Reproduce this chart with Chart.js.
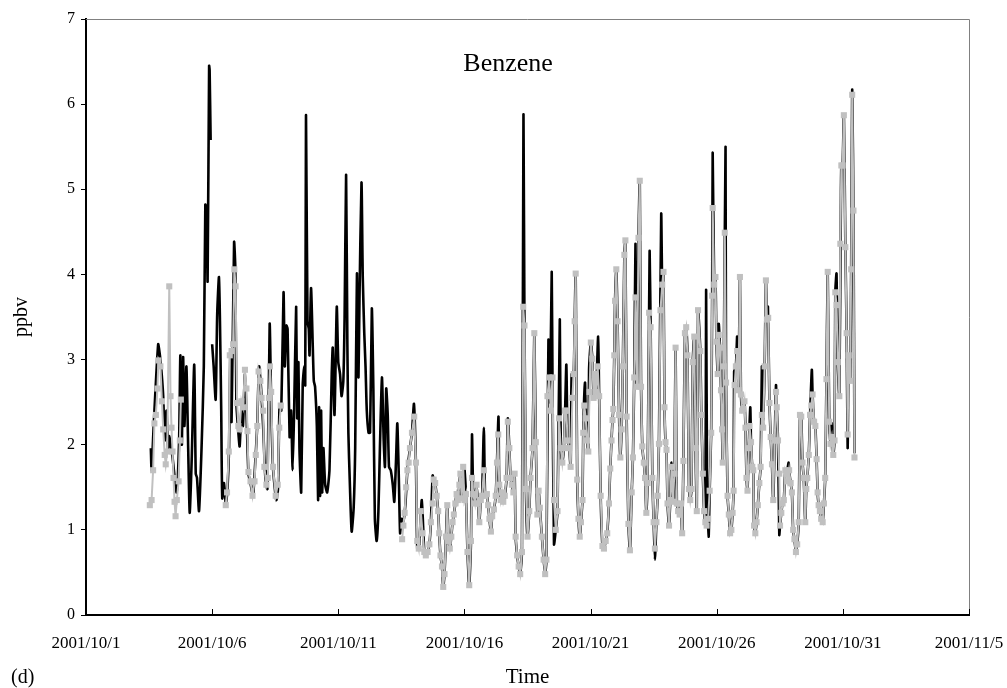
<!DOCTYPE html>
<html>
<head>
<meta charset="utf-8">
<script src="https://cdn.jsdelivr.net/npm/chart.js@4.4.1/dist/chart.umd.min.js"></script>
<style>
html, body { margin: 0; padding: 0; background: #fff; }
</style>
</head>
<body>
<canvas id="canvasBenzene" width="1007" height="688"></canvas>
<script>
// x values are days counted from 2001/10/1 00:00
var dateLabels = ['2001/10/1', '2001/10/6', '2001/10/11', '2001/10/16',
    '2001/10/21', '2001/10/26', '2001/10/31', '2001/11/5'];

// black curve, [day, ppbv]; a null value breaks the line
var blackSeries = [
    [2.57,1.96],[2.60,1.70],[2.69,2.27],[2.86,3.18],[2.93,3.05],[3.00,2.83],[3.06,2.57],[3.12,2.05],
    [3.19,2.40],[3.26,1.92],[3.30,2.10],[3.43,1.85],[3.59,1.44],[3.69,2.05],[3.74,3.05],[3.80,2.00],
    [3.85,3.03],[3.90,2.22],[3.98,2.92],[4.05,1.96],[4.11,1.20],[4.19,1.83],[4.29,2.94],[4.35,1.66],
    [4.40,1.61],[4.48,1.22],[4.58,1.96],[4.67,2.92],[4.73,4.82],[4.78,4.75],[4.82,3.92],[4.88,6.45],
    [4.90,6.40],[4.94,5.58],[4.97,null],[5.00,3.18],[5.06,2.92],[5.14,2.53],[5.20,3.53],[5.27,3.97],
    [5.31,3.45],[5.36,2.40],[5.40,1.37],[5.47,1.55],[5.54,1.31],[5.60,1.44],[5.67,1.96],[5.72,3.10],
    [5.77,2.27],[5.87,4.38],[5.92,4.06],[5.96,2.49],[6.02,2.22],[6.09,1.98],[6.16,2.40],[6.22,2.22],
    [6.30,2.83],[6.38,2.18],[6.44,1.66],[6.53,1.53],[6.62,1.40],[6.69,1.70],[6.78,2.18],[6.86,2.92],
    [6.94,2.66],[7.02,2.22],[7.11,1.61],[7.19,1.48],[7.28,3.42],[7.34,2.49],[7.41,1.74],[7.54,1.35],
    [7.61,1.48],[7.67,2.44],[7.74,2.40],[7.83,3.79],[7.88,2.92],[7.94,3.40],[7.99,3.36],[8.07,2.09],
    [8.13,2.40],[8.19,1.70],[8.25,2.40],[8.33,3.62],[8.37,2.31],[8.42,2.97],[8.46,1.96],[8.53,1.44],
    [8.59,2.70],[8.65,2.92],[8.69,2.70],[8.72,5.87],[8.78,3.45],[8.83,3.36],[8.86,3.05],[8.92,3.84],
    [8.99,3.14],[9.03,2.75],[9.08,2.68],[9.15,2.22],[9.20,1.35],[9.24,2.44],[9.28,1.40],[9.32,2.40],
    [9.36,1.44],[9.41,1.96],[9.48,1.53],[9.56,1.44],[9.65,1.70],[9.74,2.83],[9.78,3.14],[9.85,2.35],
    [9.94,3.62],[10.00,2.97],[10.07,2.83],[10.13,2.57],[10.20,2.75],[10.25,3.49],[10.31,5.17],[10.36,3.18],
    [10.40,2.14],[10.46,1.53],[10.53,0.98],[10.61,1.26],[10.67,1.96],[10.74,4.01],[10.80,2.79],[10.84,3.71],
    [10.92,5.08],[10.97,3.97],[11.03,3.31],[11.08,2.92],[11.13,2.40],[11.20,2.14],[11.26,2.14],[11.33,3.60],
    [11.39,2.66],[11.45,1.13],[11.52,0.87],[11.59,1.22],[11.65,1.96],[11.73,2.79],[11.80,2.05],[11.85,1.74],
    [11.90,2.66],[11.96,2.35],[12.01,1.74],[12.08,1.70],[12.16,1.53],[12.22,1.33],[12.29,1.83],[12.34,2.25],
    [12.40,1.61],[12.45,0.96],[12.50,1.13],[12.58,1.10],[12.66,1.30],[12.74,1.70],[12.84,1.96],[12.92,2.14],
    [13.00,2.48],[13.08,1.74],[13.13,0.78],[13.21,0.83],[13.31,1.35],[13.41,0.74],[13.47,0.70],[13.54,0.74],
    [13.61,0.83],[13.67,1.09],[13.74,1.64],[13.78,1.59],[13.84,1.55],[13.90,1.40],[13.96,1.22],[14.00,0.96],
    [14.05,0.70],[14.11,0.57],[14.16,0.33],[14.21,0.48],[14.27,0.92],[14.32,1.29],[14.37,0.87],[14.42,0.78],
    [14.48,0.92],[14.53,1.09],[14.58,1.18],[14.64,1.31],[14.69,1.42],[14.74,1.35],[14.80,1.53],[14.84,1.66],
    [14.89,1.37],[14.99,1.74],[15.06,1.42],[15.12,0.74],[15.19,0.35],[15.26,0.87],[15.30,2.12],[15.35,1.42],
    [15.42,1.31],[15.48,1.53],[15.54,1.31],[15.59,1.09],[15.65,1.35],[15.70,1.40],[15.77,2.20],[15.82,1.40],
    [15.89,1.42],[15.94,1.29],[15.99,1.13],[16.05,0.98],[16.10,1.16],[16.17,1.24],[16.24,1.40],[16.29,1.79],
    [16.35,2.33],[16.38,1.53],[16.44,1.35],[16.49,1.44],[16.54,1.33],[16.60,1.40],[16.67,1.61],[16.72,2.31],
    [16.78,1.96],[16.83,1.61],[16.88,1.53],[16.94,1.44],[16.99,1.66],[17.03,0.92],[17.09,0.70],[17.15,0.57],
    [17.21,0.48],[17.28,0.74],[17.34,5.87],[17.38,3.40],[17.44,1.48],[17.50,0.92],[17.57,1.22],[17.62,1.61],
    [17.70,1.96],[17.77,3.31],[17.83,2.03],[17.89,1.18],[17.94,1.46],[17.99,1.26],[18.07,0.92],[18.14,0.65],
    [18.20,0.48],[18.25,0.65],[18.33,3.23],[18.39,2.50],[18.46,4.03],[18.49,2.79],[18.55,0.83],[18.62,1.00],
    [18.69,1.22],[18.78,3.47],[18.82,1.96],[18.88,1.79],[18.94,1.96],[18.99,2.40],[19.04,2.94],[19.09,2.05],
    [19.15,1.96],[19.21,1.74],[19.25,2.83],[19.33,2.83],[19.37,3.45],[19.41,4.01],[19.47,1.59],[19.52,1.13],
    [19.57,0.92],[19.62,1.09],[19.68,1.35],[19.71,2.14],[19.78,2.73],[19.81,2.31],[19.86,2.05],[19.91,1.92],
    [19.94,2.88],[20.01,3.20],[20.07,3.01],[20.12,2.55],[20.17,2.83],[20.22,2.62],[20.30,3.27],[20.34,2.57],
    [20.40,1.40],[20.47,0.81],[20.53,0.78],[20.60,0.87],[20.66,0.96],[20.73,1.31],[20.78,1.72],[20.83,2.05],
    [20.87,2.29],[20.90,2.42],[20.94,3.05],[20.97,3.69],[21.02,4.06],[21.07,3.45],[21.13,2.35],[21.18,1.85],
    [21.23,2.18],[21.28,2.92],[21.34,4.23],[21.38,4.40],[21.43,2.33],[21.50,1.07],[21.56,0.76],[21.63,1.44],
    [21.68,1.85],[21.73,2.79],[21.78,4.36],[21.84,2.68],[21.90,4.43],[21.95,5.10],[22.00,2.68],[22.05,1.98],
    [22.11,1.79],[22.16,1.61],[22.21,1.20],[22.26,1.55],[22.34,4.27],[22.38,3.38],[22.45,1.61],[22.50,1.09],
    [22.55,0.65],[22.61,1.09],[22.66,1.40],[22.71,2.01],[22.80,4.71],[22.84,3.88],[22.89,4.03],[22.93,2.44],
    [22.97,2.03],[23.01,1.94],[23.05,1.31],[23.11,1.05],[23.16,1.35],[23.21,1.79],[23.27,1.33],[23.32,1.66],
    [23.37,3.14],[23.42,1.31],[23.47,1.22],[23.53,1.18],[23.58,1.31],[23.63,0.96],[23.68,1.81],[23.74,3.31],
    [23.79,3.38],[23.84,3.05],[23.90,1.48],[23.95,1.35],[24.00,1.48],[24.05,2.97],[24.11,3.27],[24.16,1.96],
    [24.21,1.22],[24.26,3.58],[24.35,3.10],[24.39,2.35],[24.45,1.66],[24.50,1.22],[24.55,1.09],[24.58,3.82],
    [24.62,1.50],[24.68,0.92],[24.72,1.46],[24.78,2.14],[24.82,3.75],[24.84,5.43],[24.90,3.88],[24.95,3.97],
    [24.99,3.21],[25.04,2.83],[25.08,3.42],[25.13,3.14],[25.17,2.64],[25.21,2.18],[25.24,1.79],[25.28,2.92],
    [25.35,5.50],[25.37,2.73],[25.43,1.40],[25.48,1.18],[25.53,0.96],[25.58,1.00],[25.63,1.20],[25.67,1.46],
    [25.69,2.86],[25.76,2.92],[25.81,3.27],[25.86,2.64],[25.92,3.97],[25.96,2.59],[26.01,2.40],[26.05,2.42],
    [26.10,2.51],[26.14,2.20],[26.18,1.61],[26.22,1.46],[26.27,1.96],[26.33,2.44],[26.36,2.03],[26.41,1.74],
    [26.45,1.70],[26.48,1.05],[26.53,0.96],[26.58,1.09],[26.63,1.29],[26.69,1.55],[26.74,1.74],[26.79,2.92],
    [26.84,2.20],[26.90,2.92],[26.95,3.93],[26.99,3.47],[27.03,3.62],[27.09,2.49],[27.14,2.09],[27.19,1.77],
    [27.24,1.35],[27.30,2.05],[27.35,2.70],[27.38,2.44],[27.43,2.05],[27.48,0.94],[27.51,1.05],[27.56,1.20],
    [27.61,1.31],[27.66,1.35],[27.72,1.70],[27.77,1.66],[27.85,1.79],[27.87,1.70],[27.93,1.55],[27.98,1.44],
    [28.03,1.00],[28.08,0.89],[28.14,0.74],[28.19,0.83],[28.25,1.09],[28.30,2.35],[28.35,2.33],[28.40,1.79],
    [28.45,1.61],[28.51,1.09],[28.55,1.48],[28.59,1.61],[28.65,1.88],[28.70,2.35],[28.77,2.88],[28.80,2.59],
    [28.86,2.27],[28.91,2.22],[28.96,1.83],[29.00,1.44],[29.04,1.29],[29.09,1.22],[29.14,1.13],[29.20,1.09],
    [29.25,1.31],[29.30,1.61],[29.35,2.77],[29.40,4.03],[29.46,2.27],[29.51,2.01],[29.56,2.25],[29.62,1.88],
    [29.67,2.05],[29.70,3.79],[29.75,4.01],[29.80,2.97],[29.86,2.57],[29.92,4.75],[29.94,5.28],[29.99,5.28],
    [30.04,5.87],[30.10,4.32],[30.15,3.31],[30.19,1.96],[30.23,3.05],[30.29,2.75],[30.33,4.06],[30.37,6.17],
    [30.42,4.75],[30.46,1.90]
];

// grey curve with square markers, [day, ppbv]; null values are the gaps
var graySeries = [
    [2.53,1.29],[2.60,1.35],[2.66,1.70],[2.71,2.25],[2.77,2.35],[2.83,2.66],[2.87,2.99],[2.95,2.92],
    [3.01,2.51],[3.06,2.18],[3.12,1.88],[3.16,1.77],[3.22,1.92],[3.30,3.86],[3.35,2.57],[3.39,2.20],
    [3.43,1.92],[3.47,1.61],[3.51,1.33],[3.55,1.16],[3.60,1.35],[3.67,1.57],[3.72,2.05],[3.76,2.53],
    [4.60,null],
    [5.54,1.29],[5.59,1.44],[5.66,1.92],[5.70,3.05],[5.77,3.10],[5.83,3.18],[5.88,4.06],[5.93,3.86],
    [5.99,2.49],[6.04,2.22],[6.09,2.18],[6.16,2.51],[6.22,2.44],[6.30,2.88],[6.36,2.66],[6.40,2.16],
    [6.44,1.68],[6.52,1.57],[6.60,1.40],[6.68,1.57],[6.73,1.88],[6.79,2.22],[6.84,2.86],[6.91,2.75],
    [6.96,2.55],[7.02,2.40],[7.07,1.74],[7.15,1.53],[7.21,1.61],[7.25,2.55],[7.29,2.92],[7.34,2.62],
    [7.41,1.74],[7.52,1.40],[7.60,1.53],[7.66,2.20],[7.72,2.46],
    [10.00,null],
    [12.53,0.89],[12.58,1.05],[12.63,1.20],[12.69,1.50],[12.74,1.70],[12.79,1.79],[12.84,1.96],[12.92,2.14],
    [13.01,2.33],[13.08,1.79],[13.13,0.87],[13.19,0.78],[13.27,1.22],[13.34,0.96],[13.41,0.74],[13.47,0.70],
    [13.54,0.74],[13.61,0.83],[13.67,1.09],[13.74,1.31],[13.78,1.59],[13.84,1.55],[13.90,1.40],[13.96,1.22],
    [14.00,0.96],[14.05,0.70],[14.11,0.57],[14.16,0.33],[14.21,0.48],[14.27,0.92],[14.32,1.29],[14.37,0.87],
    [14.42,0.78],[14.48,0.92],[14.53,1.09],[14.58,1.18],[14.64,1.31],[14.69,1.42],[14.74,1.35],[14.80,1.53],
    [14.84,1.66],[14.89,1.37],[14.95,1.74],[15.00,1.35],[15.06,1.42],[15.12,0.74],[15.19,0.35],[15.26,0.87],
    [15.30,1.61],[15.35,1.42],[15.42,1.31],[15.48,1.53],[15.54,1.31],[15.59,1.09],[15.65,1.35],[15.70,1.40],
    [15.77,1.70],[15.82,1.40],[15.89,1.42],[15.94,1.29],[15.99,1.13],[16.05,0.98],[16.10,1.16],[16.17,1.24],
    [16.24,1.40],[16.29,1.79],[16.34,2.12],[16.38,1.53],[16.44,1.35],[16.49,1.44],[16.54,1.33],[16.60,1.40],
    [16.67,1.61],[16.72,2.27],[16.78,1.96],[16.83,1.61],[16.88,1.53],[16.94,1.44],[16.99,1.66],[17.03,0.92],
    [17.09,0.70],[17.15,0.57],[17.21,0.48],[17.28,0.74],[17.33,3.62],[17.38,3.40],[17.44,1.48],[17.50,0.92],
    [17.57,1.22],[17.62,1.61],[17.70,1.96],[17.77,3.31],[17.83,2.03],[17.89,1.18],[17.94,1.46],[17.99,1.26],
    [18.07,0.92],[18.14,0.65],[18.20,0.48],[18.25,0.65],[18.29,2.57],[18.36,2.79],[18.42,2.40],[18.49,2.79],
    [18.55,1.35],[18.62,1.00],[18.69,1.22],[18.75,2.31],[18.82,1.96],[18.88,1.79],[18.94,1.96],[18.99,2.40],
    [19.04,2.40],[19.09,2.05],[19.15,1.96],[19.21,1.74],[19.28,2.55],[19.33,2.83],[19.37,3.45],[19.41,4.01],
    [19.47,1.59],[19.52,1.13],[19.57,0.92],[19.62,1.09],[19.68,1.35],[19.71,2.14],[19.75,2.46],[19.81,2.31],
    [19.86,2.05],[19.91,1.92],[19.96,2.62],[20.01,3.20],[20.07,3.01],[20.12,2.55],[20.17,2.83],[20.22,2.62],
    [20.28,2.92],[20.34,2.57],[20.40,1.40],[20.47,0.81],[20.53,0.78],[20.60,0.87],[20.66,0.96],[20.73,1.31],
    [20.78,1.72],[20.83,2.05],[20.87,2.29],[20.90,2.42],[20.94,3.05],[20.97,3.69],[21.02,4.06],[21.07,3.45],
    [21.13,2.35],[21.18,1.85],[21.23,2.18],[21.28,2.92],[21.34,4.23],[21.38,4.40],[21.43,2.33],[21.50,1.07],
    [21.56,0.76],[21.63,1.44],[21.68,1.85],[21.73,2.79],[21.78,3.73],[21.84,2.68],[21.90,4.43],[21.95,5.10],
    [22.00,2.68],[22.05,1.98],[22.11,1.79],[22.16,1.61],[22.21,1.20],[22.26,1.55],[22.32,3.55],[22.38,3.38],
    [22.45,1.61],[22.50,1.09],[22.55,0.78],[22.61,1.09],[22.66,1.40],[22.71,2.01],[22.77,3.58],[22.84,3.88],
    [22.89,4.03],[22.93,2.44],[22.97,2.03],[23.01,1.94],[23.05,1.31],[23.11,1.05],[23.16,1.35],[23.21,1.74],
    [23.27,1.33],[23.32,1.66],[23.37,3.14],[23.42,1.31],[23.47,1.22],[23.53,1.18],[23.58,1.31],[23.63,0.96],
    [23.68,1.81],[23.74,3.31],[23.79,3.38],[23.84,3.05],[23.90,1.48],[23.95,1.35],[24.00,1.48],[24.05,2.97],
    [24.11,3.27],[24.16,1.96],[24.21,1.22],[24.26,3.58],[24.35,3.10],[24.39,2.35],[24.45,1.66],[24.50,1.22],
    [24.55,1.09],[24.60,1.05],[24.66,1.13],[24.72,1.46],[24.78,2.14],[24.82,3.75],[24.84,4.78],[24.90,3.88],
    [24.95,3.97],[24.99,3.21],[25.04,2.83],[25.08,3.29],[25.13,3.14],[25.17,2.64],[25.21,2.18],[25.24,1.79],
    [25.28,2.92],[25.32,4.49],[25.37,2.73],[25.43,1.40],[25.48,1.18],[25.53,0.96],[25.58,1.00],[25.63,1.20],
    [25.67,1.46],[25.71,2.70],[25.76,2.92],[25.81,3.10],[25.86,2.64],[25.92,3.97],[25.96,2.59],[26.01,2.40],
    [26.05,2.42],[26.10,2.51],[26.14,2.20],[26.18,1.61],[26.22,1.46],[26.27,1.96],[26.30,2.22],[26.36,2.03],
    [26.41,1.74],[26.45,1.70],[26.48,1.05],[26.53,0.96],[26.58,1.09],[26.63,1.29],[26.69,1.55],[26.74,1.74],
    [26.79,2.35],[26.84,2.20],[26.90,2.92],[26.95,3.93],[26.99,3.47],[27.04,3.49],[27.09,2.49],[27.14,2.09],
    [27.19,1.77],[27.24,1.35],[27.30,2.05],[27.35,2.62],[27.38,2.44],[27.43,2.05],[27.48,1.66],[27.51,1.05],
    [27.56,1.20],[27.61,1.31],[27.66,1.35],[27.72,1.70],[27.77,1.66],[27.82,1.57],[27.87,1.70],[27.93,1.55],
    [27.98,1.44],[28.03,1.00],[28.08,0.89],[28.14,0.74],[28.19,0.83],[28.25,1.09],[28.30,2.35],[28.35,2.33],
    [28.40,1.79],[28.45,1.61],[28.51,1.09],[28.55,1.48],[28.59,1.61],[28.65,1.88],[28.70,2.35],[28.75,2.46],
    [28.80,2.59],[28.86,2.27],[28.91,2.22],[28.96,1.83],[29.00,1.44],[29.04,1.29],[29.09,1.22],[29.14,1.13],
    [29.20,1.09],[29.25,1.31],[29.30,1.61],[29.35,2.77],[29.40,4.03],[29.46,2.27],[29.51,2.01],[29.56,2.09],
    [29.62,1.88],[29.67,2.05],[29.70,3.79],[29.75,3.64],[29.80,2.97],[29.86,2.57],[29.90,4.36],[29.94,5.28],
    [29.99,5.28],[30.04,5.87],[30.10,4.32],[30.15,3.31],[30.19,2.12],[30.23,3.05],[30.29,2.75],[30.33,4.06],
    [30.37,6.11],[30.42,4.75],[30.46,1.85]
];

var yMin = 0;
var yMax = 7;
var xMin = 0;
var xMax = 35;

var serif = "'Liberation Serif', 'Times New Roman', serif";

function toPoints(pairs){
    return pairs.map(function(p){ return {x: p[0], y: p[1]}; });
}

// frame, inner x ticks and the free text labels
var decorPlugin = {
    id: 'decor',
    afterDraw: function(chart){
        var ctx = chart.ctx;
        var area = chart.chartArea;
        var xs = chart.scales.x;
        ctx.save();
        ctx.strokeStyle = '#808080';
        ctx.lineWidth = 1;
        ctx.beginPath();
        ctx.moveTo(area.left, area.top + 0.5);
        ctx.lineTo(area.right + 0.5, area.top + 0.5);
        ctx.lineTo(area.right + 0.5, area.bottom);
        ctx.stroke();

        ctx.strokeStyle = '#000';
        ctx.beginPath();
        xs.ticks.forEach(function(t){
            var px = Math.round(xs.getPixelForValue(t.value)) + 0.5;
            ctx.moveTo(px, area.bottom);
            ctx.lineTo(px, area.bottom - 6);
        });
        ctx.stroke();

        ctx.fillStyle = '#000';
        ctx.textAlign = 'center';
        ctx.textBaseline = 'middle';
        ctx.font = '26px ' + serif;
        ctx.fillText('Benzene', area.left + area.width * 0.478, area.top + 45);
        ctx.font = '20px ' + serif;
        ctx.textAlign = 'left';
        ctx.fillText('(d)', 11, chart.height - 10);
        ctx.restore();
    }
};

var ctx = document.getElementById('canvasBenzene').getContext('2d');
var chart = new Chart(ctx, {
    type: 'line',
    data: {
        datasets: [
            {
                label: 'grey',
                data: toPoints(graySeries),
                borderColor: '#c0c0c0',
                backgroundColor: '#c0c0c0',
                borderWidth: 2,
                pointStyle: 'rect',
                pointRadius: 4.3,
                pointBorderWidth: 0,
                tension: 0,
                spanGaps: false,
                order: 0
            },
            {
                label: 'black',
                data: toPoints(blackSeries),
                borderColor: '#000',
                borderWidth: 2.6,
                pointRadius: 0,
                tension: 0.2,
                spanGaps: false,
                order: 1
            }
        ]
    },
    options: {
        responsive: false,
        devicePixelRatio: 1,
        animation: false,
        layout: { padding: { top: 19, right: 0, left: 0, bottom: 0 } },
        plugins: {
            legend: { display: false },
            tooltip: { enabled: false },
            title: { display: false }
        },
        scales: {
            x: {
                type: 'linear',
                min: xMin,
                max: xMax,
                grid: { display: false },
                border: { display: true, color: '#000', width: 2 },
                ticks: {
                    stepSize: 5,
                    autoSkip: false,
                    maxRotation: 0,
                    padding: 10,
                    color: '#000',
                    font: { family: serif, size: 17 },
                    callback: function(value){ return dateLabels[value / 5]; }
                },
                title: {
                    display: true,
                    text: 'Time',
                    color: '#000',
                    font: { family: serif, size: 21, lineHeight: 1 },
                    padding: { top: 0, bottom: 0 }
                },
                afterFit: function(scale){
                    scale.height = 73;
                    // let the last date label run to the canvas edge as in the source
                    scale.paddingRight = 38;
                }
            },
            y: {
                min: yMin,
                max: yMax,
                grid: {
                    display: true,
                    drawOnChartArea: false,
                    drawTicks: true,
                    tickLength: 5,
                    tickColor: '#000',
                    tickWidth: 1
                },
                border: { display: true, color: '#000', width: 2 },
                ticks: {
                    stepSize: 1,
                    padding: 6,
                    color: '#000',
                    font: { family: serif, size: 16 }
                },
                title: {
                    display: true,
                    text: 'ppbv',
                    color: '#000',
                    font: { family: serif, size: 20 },
                    padding: { top: 10, bottom: 0 }
                },
                afterFit: function(scale){ scale.width = 86; }
            }
        }
    },
    plugins: [decorPlugin]
});
</script>
</body>
</html>
